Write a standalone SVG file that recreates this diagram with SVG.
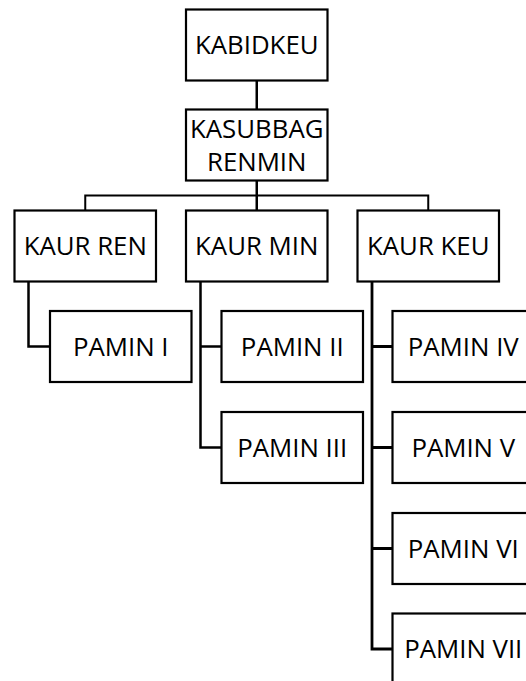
<svg xmlns="http://www.w3.org/2000/svg" width="526" height="681" viewBox="0 0 526 681">
<style>
.box{fill:#fff;stroke:#000;stroke-width:2.2}
.lbl{font-family:"Open Sans","Noto Sans","DejaVu Sans",sans-serif;font-size:25.8px;fill:#000;text-anchor:middle}
.con{fill:none;stroke:#000;stroke-width:2.5}
</style>
<rect width="526" height="681" fill="#fff"/>
<g id="connectors" class="con">
<path d="M256.75 80.5V109.5"/>
<path d="M256.75 180.5V210.5"/>
<path d="M85.25 210.5V195.5H428.25V210.5" stroke-width="2"/>
<path d="M28.5 281.5V346.5H50"/>
<path d="M200.5 281.5V447.5H221.5M200.5 346.5H221.5"/>
<path d="M372 281.5V649H392.5M372 346.5H392.5M372 447.5H392.5M372 548.5H392.5" stroke-width="2.8"/>
</g>
<g id="kabidkeu"><rect class="box" x="186" y="9.5" width="141.5" height="71"/><text class="lbl" x="256.75" y="53.5">KABIDKEU</text></g>
<g id="kasubbag"><rect class="box" x="186" y="109.5" width="141.5" height="71"/><text class="lbl" x="256.75" y="137.5">KASUBBAG</text><text class="lbl" x="256.75" y="170.5">RENMIN</text></g>
<g id="kaur-ren"><rect class="box" x="14.5" y="210.5" width="141.5" height="71"/><text class="lbl" x="85.25" y="254.5">KAUR REN</text></g>
<g id="kaur-min"><rect class="box" x="186" y="210.5" width="141.5" height="71"/><text class="lbl" x="256.75" y="254.5">KAUR MIN</text></g>
<g id="kaur-keu"><rect class="box" x="357.5" y="210.5" width="141.5" height="71"/><text class="lbl" x="428.25" y="254.5">KAUR KEU</text></g>
<g id="pamin-1"><rect class="box" x="50" y="311" width="141.5" height="71"/><text class="lbl" x="120.75" y="355.5">PAMIN I</text></g>
<g id="pamin-2"><rect class="box" x="221.5" y="311" width="141.5" height="71"/><text class="lbl" x="292.25" y="355.5">PAMIN II</text></g>
<g id="pamin-3"><rect class="box" x="221.5" y="412" width="141.5" height="71"/><text class="lbl" x="292.25" y="456.5">PAMIN III</text></g>
<g id="pamin-4"><rect class="box" x="392.5" y="311" width="141.5" height="71"/><text class="lbl" x="463.25" y="355.5">PAMIN IV</text></g>
<g id="pamin-5"><rect class="box" x="392.5" y="412" width="141.5" height="71"/><text class="lbl" x="463.25" y="456.5">PAMIN V</text></g>
<g id="pamin-6"><rect class="box" x="392.5" y="513" width="141.5" height="71"/><text class="lbl" x="463.25" y="557.5">PAMIN VI</text></g>
<g id="pamin-7"><rect class="box" x="392.5" y="613.5" width="141.5" height="71"/><text class="lbl" x="463.25" y="658">PAMIN VII</text></g>
</svg>
